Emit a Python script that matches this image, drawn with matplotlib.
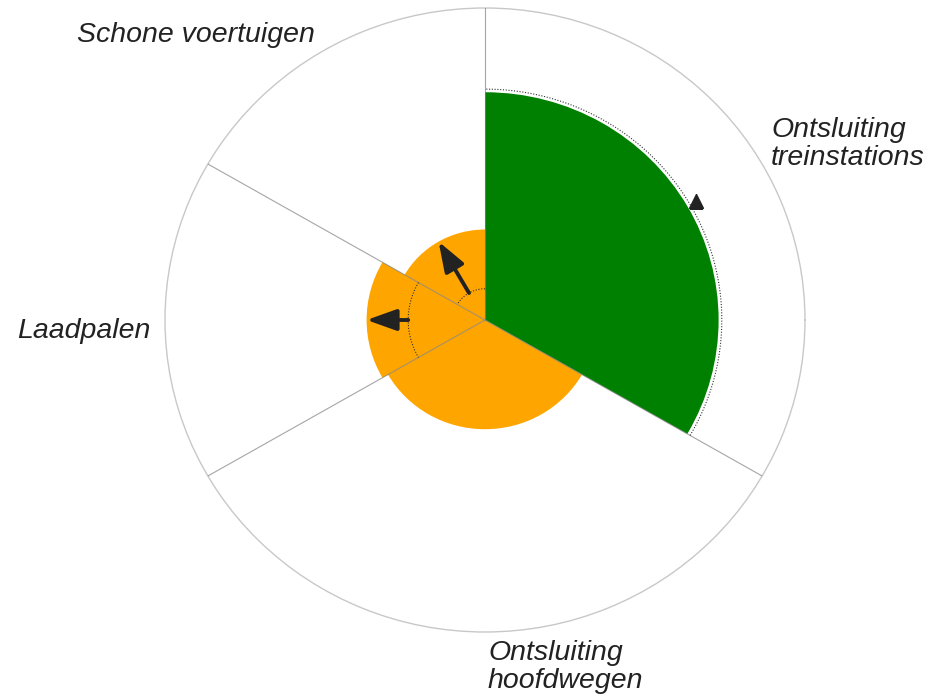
import numpy as np
import matplotlib
matplotlib.use("Agg")
import matplotlib.pyplot as plt

# sector data (clockwise from 12 o'clock)
categories = ["Ontsluiting\ntreinstations", "Ontsluiting\nhoofdwegen", "Laadpalen", "Schone voertuigen"]
weights = [2, 2, 1, 1]
values = [73, 35, 37, 29]
previous = [74, None, 24, 10]
targets = [76, None, None, None]
colors = ["#008000", "#ffa500", "#ffa500", "#ffa500"]

W, H = 932, 696
fig = plt.figure(figsize=(W / 100, H / 100), dpi=100)

# circle centre (485, 320) px, radius 320 x 312 px
cx, cy, rx, ry = 485, 320, 320, 312
ax = fig.add_axes([(cx - rx) / W, 1 - (cy + ry) / H, 2 * rx / W, 2 * ry / H], projection="polar")
ax.set_aspect("auto")
ax.set_ylim(0, 100)
ax.grid(False)
ax.set_xticks([])
ax.set_yticks([])
ax.spines["polar"].set_color("#c8c8c8")
ax.spines["polar"].set_linewidth(1.0)

total = sum(weights)
widths = [2 * np.pi * w / total for w in weights]
starts = np.pi / 2 - np.cumsum([0] + widths[:-1])  # clockwise from top
centers = [s - w / 2 for s, w in zip(starts, widths)]

ax.bar(centers, values, width=widths, bottom=0, color=colors, linewidth=0, zorder=1)

# spokes
for s in starts:
    ax.plot([s, s], [0, 100], color="#808080", lw=0.8, alpha=0.7, zorder=3)

for c, w, v, p, t in zip(centers, widths, values, previous, targets):
    if p is not None:
        th = np.linspace(c - w / 2, c + w / 2, 120)
        ax.plot(th, np.full_like(th, p), ls=(0, (1, 1.5)), color="#333333", lw=0.8, zorder=4)
        if abs(v - p) > 3:
            ax.annotate("", xy=(c, v), xytext=(c, p),
                        arrowprops=dict(arrowstyle="-|>,head_length=0.7,head_width=0.25", lw=2.8,
                                        color="#222222", mutation_scale=26, shrinkA=0, shrinkB=0),
                        zorder=5)
    if t is not None:
        ax.plot([c], [t], marker="^", ms=10, color="#222222", zorder=5)


def px(x, y):
    return x / W, 1 - y / H


font = dict(family=["Liberation Sans", "DejaVu Sans"], style="italic", size=20.5, color="#222222")
fig.text(*px(196, 42), categories[3], ha="center", va="baseline", **font)
fig.text(*px(771, 117), categories[0], ha="left", va="top", linespacing=1.12, **font)
fig.text(*px(150, 338), categories[2], ha="right", va="baseline", **font)
fig.text(*px(488, 640), categories[1], ha="left", va="top", linespacing=1.12, **font)

fig.savefig("out.png", dpi=100)
